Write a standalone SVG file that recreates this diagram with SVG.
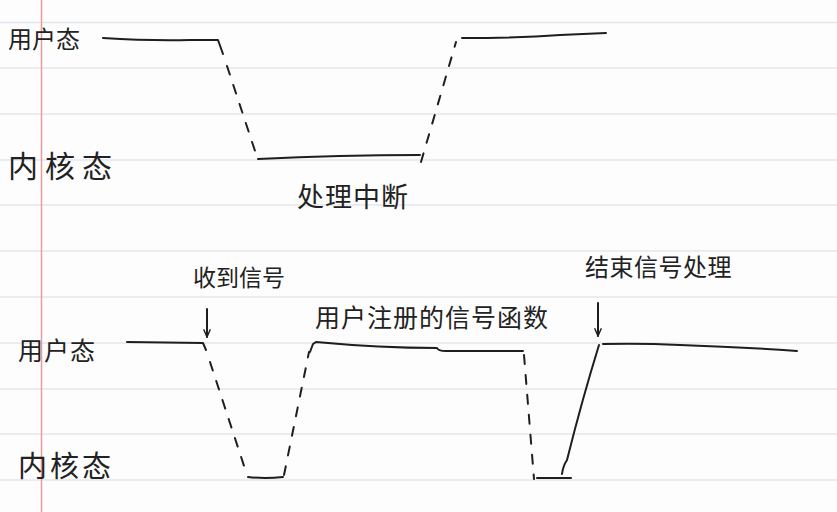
<svg xmlns="http://www.w3.org/2000/svg" width="837" height="512" viewBox="0 0 837 512">
<style>
.rule{stroke:#e2e7ee;stroke-width:1.5}
.wave{fill:none;stroke:#1e1e1e;stroke-width:2;stroke-linecap:round;stroke-linejoin:round}
.dash{stroke-dasharray:9 11}
.t{font-family:"Noto Sans CJK SC","Noto Sans CJK JP",sans-serif;fill:#222}
</style>
<defs>
<marker id="ah" viewBox="0 0 10 10" refX="9" refY="5" markerWidth="9" markerHeight="9" orient="auto" markerUnits="userSpaceOnUse">
<path d="M1 1.5 L9 5 L1 8.5" fill="none" stroke="#1e1e1e" stroke-width="1.6" stroke-linecap="round" stroke-linejoin="round"/>
</marker>
</defs>
<rect width="837" height="512" fill="#fdfdfd"/>
<g id="paper">
<line class="rule" x1="0" y1="22.5" x2="837" y2="22.5"/>
<line class="rule" x1="0" y1="68" x2="837" y2="68"/>
<line class="rule" x1="0" y1="114" x2="837" y2="114"/>
<line class="rule" x1="0" y1="160" x2="837" y2="160"/>
<line class="rule" x1="0" y1="205" x2="837" y2="205"/>
<line class="rule" x1="0" y1="251" x2="837" y2="251"/>
<line class="rule" x1="0" y1="297" x2="837" y2="297"/>
<line class="rule" x1="0" y1="343" x2="837" y2="343"/>
<line class="rule" x1="0" y1="389" x2="837" y2="389"/>
<line class="rule" x1="0" y1="434" x2="837" y2="434"/>
<line class="rule" x1="0" y1="480" x2="837" y2="480"/>
<line x1="41.5" y1="0" x2="41.5" y2="512" stroke="#ef9a9a" stroke-width="1.5"/>
</g>
<g id="labels">
<text class="t" x="8" y="48" style="font-size:24px">用户态</text>
<text class="t" x="8" y="177" style="font-size:30px;letter-spacing:7px">内核态</text>
<text class="t" x="297" y="207" style="font-size:27px;letter-spacing:1px">处理中断</text>
<text class="t" x="193" y="286" style="font-size:23px">收到信号</text>
<text class="t" x="18" y="360" style="font-size:25px;letter-spacing:1px">用户态</text>
<text class="t" x="18" y="477" style="font-size:29px;letter-spacing:3px">内核态</text>
<text class="t" x="315" y="327" style="font-size:25px;letter-spacing:1px">用户注册的信号函数</text>
<text class="t" x="585" y="276" style="font-size:24px;letter-spacing:0.5px">结束信号处理</text>
</g>
<g id="connectors">
<path class="wave" d="M103 38 Q150 41 190 40 L218 40 L223 54"/>
<path class="wave dash" d="M227 66 L257 157"/>
<path class="wave" d="M258 159 Q340 155 420 155"/>
<path class="wave dash" d="M421 162 L456 42"/>
<path class="wave" d="M462 38 Q520 38 560 35 L606 33"/>
<path class="wave" d="M127 342 L203 343 L206 350"/>
<path class="wave dash" d="M210 362 L247 475"/>
<path class="wave" d="M248 477 Q265 479 283 477"/>
<path class="wave dash" d="M284 475 L309 352"/>
<path class="wave" d="M310 352 L313 344 L316 342 Q380 348 437 348 Q438 351 446 351 L523 351"/>
<path class="wave dash" d="M524 355 L534 479"/>
<path class="wave" d="M537 478 L571 478"/>
<path class="wave" d="M562 474 Q563 466 567 460 Q582 400 599 345"/>
<path class="wave" d="M603 344 Q640 343 680 345 Q740 347 797 351"/>
<line class="wave" x1="207" y1="309" x2="207" y2="337" marker-end="url(#ah)"/>
<line class="wave" x1="598" y1="303" x2="598" y2="336" marker-end="url(#ah)"/>
</g>
</svg>
